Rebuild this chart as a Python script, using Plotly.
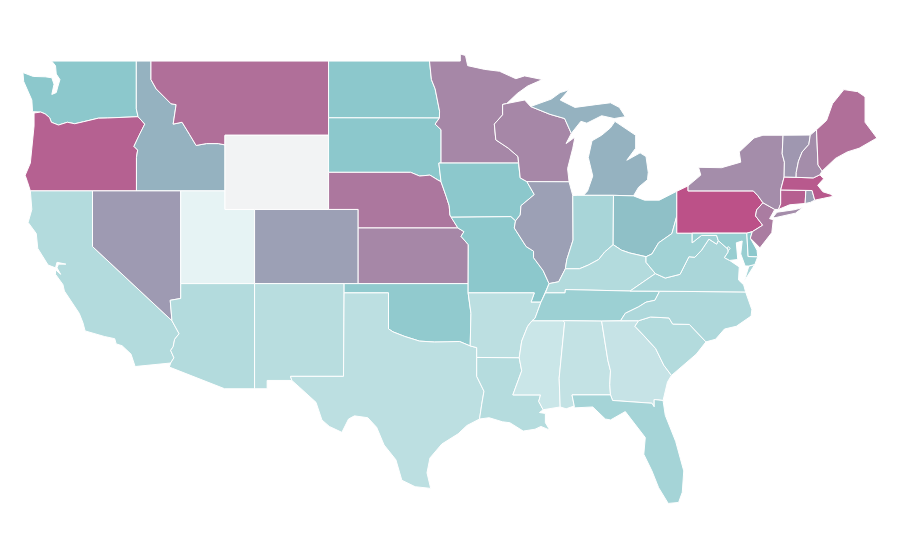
import plotly.graph_objects as go
from plotly.colors import sample_colorscale

# None means no value for that state
states = ['WA', 'OR', 'CA', 'ID', 'NV', 'UT', 'AZ', 'MT', 'WY', 'CO', 'NM', 'ND', 'SD', 'NE', 'KS', 'OK', 'TX',
          'MN', 'IA', 'MO', 'AR', 'LA', 'MS', 'WI', 'IL', 'MI', 'IN', 'OH', 'KY', 'TN', 'AL', 'GA', 'FL', 'SC',
          'NC', 'VA', 'WV', 'PA', 'MD', 'DC', 'DE', 'NJ', 'NY', 'CT', 'RI', 'MA', 'VT', 'NH', 'ME']
values = [50, 88, 33, 58, 67, 11, 33, 83, None, 65, 31, 50, 50, 80, 74, 48, 29,
          74, 50, 50, 29, 32, 23, 74, 65, 58, 38, 53, 33, 43, 26, 25, 39, 33,
          35, 37, 41, 94, 45, 40, 50, 78, 72, 89, 65, 91, 68, 72, 83]

scale = [[0, '#ffffff'], [0.5, '#8cc8cc'], [1, '#c2417f']]
no_data_color = '#f2f3f4'

# The plotly state topojson needs the network, so the base map is written out here:
# rough state outlines as real lon/lat, None starts another part of the state
outlines = {
    'WA': [(-122.76,49),(-122.5,48.75),(-122.45,48.3),(-122.2,48),(-122.35,47.6),(-122.45,47.3),(-122.75,47.2),(-122.6,47.75),(-122.75,48.1),(-123.2,48.15),(-124,48.17),(-124.7,48.38),(-124.65,47.9),(-124.3,47.3),(-124.1,46.9),(-124.05,46.27),(-123.5,46.25),(-123.2,46.15),(-122.9,45.95),(-122.78,45.7),(-122.3,45.55),(-121.7,45.7),(-121.2,45.62),(-120.6,45.73),(-119.6,45.92),(-119,45.93),(-116.92,46),(-117.04,46.42),(-117.04,49)],
    'OR': [(-123.95,46.2),(-123.5,46.25),(-123.2,46.15),(-122.9,45.95),(-122.78,45.7),(-122.3,45.55),(-121.7,45.7),(-121.2,45.62),(-120.6,45.73),(-119.6,45.92),(-119,45.93),(-116.92,46),(-116.47,45.6),(-116.85,45),(-117.2,44.4),(-116.95,44.2),(-117.03,43.8),(-117.03,42),(-124.2,42),(-124.4,42.5),(-124.55,42.84),(-124.2,43.5),(-124.1,44.5),(-123.95,45.5)],
    'CA': [(-124.2,42),(-120,42),(-120,39),(-114.63,35),(-114.15,34.3),(-114.45,34),(-114.55,33.6),(-114.72,33.4),(-114.5,33),(-114.72,32.72),(-117.12,32.53),(-117.25,32.85),(-117.4,33.2),(-118,33.65),(-118.4,33.75),(-118.5,34.03),(-119.2,34.15),(-120.5,34.45),(-120.65,34.9),(-120.9,35.4),(-121.9,36.6),(-122,36.95),(-122.5,37.5),(-122.5,37.75),(-122.15,37.5),(-122.4,37.85),(-122.3,38.05),(-121.8,38.05),(-122.4,38.15),(-122.5,37.85),(-123,38),(-123.7,38.9),(-123.8,39.7),(-124.35,40.3),(-124.1,41)],
    'ID': [(-117.04,49),(-116.05,49),(-116.05,48),(-115.7,47.5),(-114.7,46.7),(-114.35,46.65),(-114.55,45.6),(-113.95,45.7),(-113.45,45.05),(-113,44.45),(-112.3,44.55),(-111.5,44.55),(-111.05,44.48),(-111.05,42),(-117.03,42),(-117.03,43.8),(-116.95,44.2),(-117.2,44.4),(-116.85,45),(-116.47,45.6),(-116.92,46),(-117.04,46.42)],
    'NV': [(-120,42),(-114.04,42),(-114.04,36.2),(-114.75,36.1),(-114.63,35),(-120,39)],
    'UT': [(-114.04,42),(-111.05,42),(-111.05,41),(-109.05,41),(-109.05,37),(-114.04,37)],
    'AZ': [(-114.04,37),(-109.05,37),(-109.05,31.33),(-111.07,31.33),(-114.81,32.5),(-114.72,32.72),(-114.5,33),(-114.72,33.4),(-114.55,33.6),(-114.45,34),(-114.15,34.3),(-114.63,35),(-114.75,36.1),(-114.04,36.2)],
    'MT': [(-116.05,49),(-104.05,49),(-104.05,45),(-111.05,45),(-111.05,44.48),(-111.5,44.55),(-112.3,44.55),(-113,44.45),(-113.45,45.05),(-113.95,45.7),(-114.55,45.6),(-114.35,46.65),(-114.7,46.7),(-115.7,47.5),(-116.05,48)],
    'WY': [(-111.05,45),(-104.05,45),(-104.05,41),(-111.05,41)],
    'CO': [(-109.05,41),(-102.05,41),(-102.05,37),(-109.05,37)],
    'NM': [(-109.05,37),(-103,37),(-103.04,32),(-106.62,32),(-106.53,31.78),(-108.2,31.78),(-108.2,31.33),(-109.05,31.33)],
    'ND': [(-104.05,49),(-97.23,49),(-97.1,48),(-96.85,47.5),(-96.55,46.3),(-96.56,45.93),(-104.05,45.94)],
    'SD': [(-104.05,45.94),(-96.56,45.93),(-96.85,45.6),(-96.45,45.3),(-96.45,43.5),(-96.6,43.5),(-96.45,42.49),(-96.7,42.6),(-97.2,42.85),(-97.9,42.8),(-98.5,43),(-104.05,43)],
    'NE': [(-104.05,43),(-98.5,43),(-97.9,42.8),(-97.2,42.85),(-96.7,42.6),(-96.45,42.49),(-96.1,41.7),(-95.9,41.2),(-95.85,40.7),(-95.31,40),(-102.05,40),(-102.05,41),(-104.05,41)],
    'KS': [(-102.05,40),(-95.31,40),(-94.9,39.8),(-95.1,39.55),(-94.61,39.1),(-94.62,37),(-102.05,37)],
    'OK': [(-103,37),(-94.62,37),(-94.62,36.5),(-94.43,35.4),(-94.48,33.64),(-95.2,33.88),(-96,33.85),(-96.9,33.85),(-97.9,33.9),(-98.9,34.15),(-99.7,34.4),(-100,34.56),(-100,36.5),(-103,36.5)],
    'TX': [(-103,36.5),(-100,36.5),(-100,34.56),(-99.7,34.4),(-98.9,34.15),(-97.9,33.9),(-96.9,33.85),(-96,33.85),(-95.2,33.88),(-94.48,33.64),(-94.04,33.55),(-94.04,32),(-93.55,31.2),(-93.7,30.5),(-93.85,29.7),(-94.7,29.35),(-95.3,28.9),(-96.4,28.35),(-97.2,27.6),(-97.4,26.8),(-97.15,25.96),(-98.2,26.05),(-99.1,26.4),(-99.5,27.5),(-100.3,28.3),(-100.8,29.25),(-101.4,29.77),(-102.3,29.87),(-102.7,29.7),(-103.15,28.98),(-104,29.3),(-104.5,29.65),(-104.9,30.6),(-106,31.4),(-106.53,31.78),(-106.62,32),(-103.04,32)],
    'MN': [(-97.23,49),(-95.15,49),(-95.15,49.38),(-94.8,49.3),(-94.65,48.75),(-93.5,48.55),(-92.5,48.45),(-91.4,48.05),(-90.8,48.2),(-89.6,48),(-90.6,47.65),(-91.3,47.25),(-92.01,46.71),(-92.29,46.66),(-92.29,46.1),(-92.85,45.6),(-92.75,44.75),(-91.9,44.3),(-91.25,43.85),(-91.22,43.5),(-96.45,43.5),(-96.45,45.3),(-96.85,45.6),(-96.56,45.93),(-96.55,46.3),(-96.85,47.5),(-97.1,48)],
    'IA': [(-96.6,43.5),(-91.22,43.5),(-91.1,42.7),(-90.65,42.5),(-90.15,41.8),(-91.05,41.2),(-91.1,40.7),(-91.42,40.38),(-91.73,40.61),(-95.77,40.58),(-95.85,40.7),(-95.9,41.2),(-96.1,41.7),(-96.45,42.49)],
    'MO': [(-95.77,40.58),(-91.73,40.61),(-91.42,40.38),(-91.5,40),(-90.7,39),(-90.2,38.75),(-90.2,38.4),(-89.55,37.7),(-89.15,37),(-89.4,36.5),(-89.7,36),(-90.37,36),(-90.15,36.5),(-94.62,36.5),(-94.62,37),(-94.61,39.1),(-95.1,39.55),(-94.9,39.8),(-95.31,40)],
    'AR': [(-94.62,36.5),(-90.15,36.5),(-90.37,36),(-89.7,36),(-90.1,35.13),(-90.3,35),(-90.6,34.7),(-91,33.9),(-91.17,33),(-94.04,33.02),(-94.04,33.55),(-94.48,33.64),(-94.43,35.4)],
    'LA': [(-94.04,33.02),(-91.17,33),(-91,32.3),(-91.6,31),(-89.73,31),(-89.85,30.65),(-89.55,30.2),(-89.8,30.05),(-89.4,30),(-89.4,29.5),(-89.1,29.1),(-89.7,29.3),(-90.1,29.15),(-90.9,29.05),(-91.8,29.5),(-92.3,29.55),(-93.2,29.77),(-93.85,29.7),(-93.7,30.5),(-93.55,31.2),(-94.04,32)],
    'MS': [(-90.3,35),(-88.2,35),(-88.1,34.9),(-88.47,31.9),(-88.4,30.35),(-89.55,30.2),(-89.85,30.65),(-89.73,31),(-91.6,31),(-91,32.3),(-91.17,33),(-91,33.9),(-90.6,34.7)],
    'WI': [(-92.01,46.71),(-90.8,46.9),(-90.4,46.55),(-89.1,46.13),(-88.1,45.9),(-87.8,45.35),(-87.65,45.1),(-88,44.55),(-87.4,44.9),(-87.55,44.3),(-87.9,43.2),(-87.8,42.49),(-90.65,42.5),(-91.1,42.7),(-91.22,43.5),(-91.25,43.85),(-91.9,44.3),(-92.75,44.75),(-92.85,45.6),(-92.29,46.1),(-92.29,46.66)],
    'IL': [(-90.65,42.5),(-87.8,42.49),(-87.55,41.75),(-87.53,39.35),(-87.95,38.3),(-88.05,37.8),(-88.5,37.1),(-89.15,37),(-89.55,37.7),(-90.2,38.4),(-90.2,38.75),(-90.7,39),(-91.5,40),(-91.42,40.38),(-91.1,40.7),(-91.05,41.2),(-90.15,41.8)],
    'MI': [(-84.8,41.76),(-83.45,41.73),(-83.1,42.2),(-82.5,42.6),(-82.45,43),(-82.6,43.85),(-83,44.05),(-83.9,43.65),(-83.3,44.3),(-83.3,45),(-84.7,45.75),(-85,45.4),(-85.6,45),(-86.25,44.7),(-86.5,43.8),(-86.2,42.8),(-86.55,42),(-86.82,41.76), None,
           (-90.4,46.55),(-89,46.95),(-88.4,47.3),(-87.8,47.45),(-88.4,46.9),(-87.4,46.5),(-86,46.65),(-85,46.75),(-84.4,46.5),(-84,46),(-84.75,45.9),(-85.6,46.05),(-86.6,45.65),(-87,45.75),(-87.65,45.1),(-87.8,45.35),(-88.1,45.9),(-89.1,46.13)],
    'IN': [(-87.55,41.75),(-87.2,41.76),(-84.8,41.76),(-84.82,39.1),(-85.4,38.7),(-85.8,38.3),(-86.5,38),(-87.1,37.8),(-88.05,37.8),(-87.95,38.3),(-87.53,39.35)],
    'OH': [(-84.8,41.76),(-83.45,41.73),(-82.7,41.5),(-81.7,41.5),(-80.52,41.98),(-80.52,40.64),(-80.85,39.7),(-81.75,39.2),(-82.2,38.6),(-82.6,38.45),(-83.7,38.65),(-84.25,38.8),(-84.82,39.1)],
    'KY': [(-89.4,36.5),(-89.15,37),(-88.5,37.1),(-88.05,37.8),(-87.1,37.8),(-86.5,38),(-85.8,38.3),(-85.4,38.7),(-84.82,39.1),(-84.25,38.8),(-83.7,38.65),(-82.6,38.45),(-82.6,38.15),(-81.97,37.54),(-83.68,36.6),(-88.05,36.68),(-88.07,36.5)],
    'TN': [(-90.3,35),(-90.1,35.13),(-89.7,36),(-89.4,36.5),(-88.07,36.5),(-88.05,36.68),(-83.68,36.6),(-81.68,36.59),(-82,36.1),(-82.6,36),(-83.1,35.75),(-84,35.4),(-84.32,35),(-85.6,34.98),(-88.2,35)],
    'AL': [(-88.2,35),(-85.6,34.98),(-85.18,32.87),(-85,32.3),(-85.05,31.55),(-85,31),(-87.6,31),(-87.45,30.4),(-88,30.25),(-88.4,30.35),(-88.47,31.9),(-88.1,34.9)],
    'GA': [(-85.6,34.98),(-83.1,35),(-83.35,34.7),(-82.75,34.2),(-81.95,33.5),(-81.4,32.6),(-80.88,32.05),(-81.15,31.7),(-81.45,30.7),(-82.05,30.75),(-82.05,30.36),(-82.2,30.55),(-84.86,30.7),(-85,31),(-85.05,31.55),(-85,32.3),(-85.18,32.87)],
    'FL': [(-87.6,31),(-85,31),(-84.86,30.7),(-82.2,30.55),(-82.05,30.36),(-82.05,30.75),(-81.45,30.7),(-81.3,29.9),(-80.6,28.5),(-80.05,26.9),(-80.15,25.75),(-80.4,25.2),(-81.1,25.15),(-81.75,26),(-82.2,26.9),(-82.75,27.8),(-82.65,28.7),(-83.4,29.5),(-84,30.1),(-85,29.65),(-85.35,29.7),(-86.2,30.35),(-87.45,30.3),(-87.45,30.4)],
    'SC': [(-83.1,35),(-82.3,35.2),(-81.05,35.15),(-80.8,34.82),(-79.67,34.8),(-78.55,33.86),(-79.2,33.2),(-79.9,32.7),(-80.88,32.05),(-81.4,32.6),(-81.95,33.5),(-82.75,34.2),(-83.35,34.7)],
    'NC': [(-84.32,35),(-83.1,35),(-82.3,35.2),(-81.05,35.15),(-80.8,34.82),(-79.67,34.8),(-78.55,33.86),(-77.9,34),(-77.3,34.55),(-76.5,34.7),(-75.5,35.25),(-75.45,35.6),(-75.87,36.55),(-81.68,36.59),(-82,36.1),(-82.6,36),(-83.1,35.75),(-84,35.4)],
    'VA': [(-83.68,36.6),(-81.97,37.54),(-81.3,37.3),(-80.3,37.5),(-79.7,38.45),(-79.3,38.42),(-78.85,38.8),(-78.35,39.4),(-77.83,39.13),(-77.72,39.32),(-77.05,38.85),(-77.05,38.7),(-77.3,38.4),(-76.95,38.25),(-76.3,37.9),(-76.35,37.2),(-76,36.93),(-75.87,36.55),(-81.68,36.59), None,
           (-75.95,37.15),(-75.65,37.95),(-75.25,38.03)],
    'WV': [(-81.97,37.54),(-82.6,38.15),(-82.6,38.45),(-82.2,38.6),(-81.75,39.2),(-80.85,39.7),(-80.52,40.64),(-80.52,39.72),(-79.48,39.72),(-79.48,39.2),(-78.85,39.6),(-78.4,39.6),(-77.83,39.6),(-77.72,39.32),(-77.83,39.13),(-78.35,39.4),(-78.85,38.8),(-79.3,38.42),(-79.7,38.45),(-80.3,37.5),(-81.3,37.3)],
    'PA': [(-80.52,41.98),(-79.76,42.27),(-79.76,42),(-75.35,42),(-75.05,41.75),(-74.7,41.36),(-75.13,40.97),(-75.2,40.65),(-74.72,40.15),(-75.42,39.8),(-75.79,39.72),(-80.52,39.72)],
    'MD': [(-79.48,39.72),(-75.79,39.72),(-75.7,38.46),(-75.05,38.45),(-75.25,38.03),(-75.65,37.95),(-75.9,37.95),(-76.2,38.6),(-76.1,39.3),(-76.5,39.2),(-76.4,38.3),(-76.95,38.25),(-77.3,38.4),(-77.05,38.7),(-77.05,38.85),(-77.72,39.32),(-77.83,39.6),(-78.4,39.6),(-78.85,39.6),(-79.48,39.2)],
    'DC': [(-77.12,38.93),(-77.04,39),(-76.91,38.89),(-77.04,38.79)],
    'DE': [(-75.79,39.72),(-75.42,39.8),(-75.55,39.45),(-75.1,38.8),(-75.05,38.45),(-75.7,38.46)],
    'NJ': [(-74.7,41.36),(-73.9,41),(-74.25,40.5),(-74,40.45),(-74.1,39.75),(-74.9,38.93),(-75.55,39.45),(-75.42,39.8),(-74.72,40.15),(-75.2,40.65),(-75.13,40.97)],
    'NY': [(-79.76,42),(-79.76,42.27),(-78.9,42.85),(-79.05,43.27),(-77.5,43.25),(-76.2,43.55),(-76.3,44.1),(-75.3,44.85),(-74.7,45),(-73.34,45),(-73.4,44),(-73.25,43.55),(-73.27,42.75),(-73.5,42.05),(-73.5,41.3),(-73.65,41),(-73.9,41),(-74.7,41.36),(-75.05,41.75),(-75.35,42), None,
           (-74,40.6),(-73.75,40.85),(-72.6,40.98),(-72,41.1),(-72.5,40.8),(-73.9,40.55)],
    'CT': [(-73.5,42.05),(-71.8,42.02),(-71.85,41.32),(-72.9,41.25),(-73.65,41),(-73.5,41.3)],
    'RI': [(-71.8,42.02),(-71.38,42.02),(-71.2,41.5),(-71.5,41.38),(-71.85,41.32)],
    'MA': [(-73.5,42.05),(-73.27,42.75),(-71.3,42.7),(-70.85,42.87),(-70.6,42.65),(-71,42.3),(-70.65,41.95),(-70.05,41.8),(-70.2,42.05),(-70,41.7),(-70.6,41.6),(-71.2,41.5),(-71.38,42.02),(-71.8,42.02)],
    'VT': [(-73.34,45),(-71.5,45.01),(-71.6,44.5),(-72.05,44.1),(-72.3,43.6),(-72.45,43),(-72.46,42.73),(-73.27,42.75),(-73.25,43.55),(-73.4,44)],
    'NH': [(-71.5,45.01),(-71.08,45.3),(-70.98,43.4),(-70.7,43.07),(-70.85,42.87),(-71.3,42.7),(-72.46,42.73),(-72.45,43),(-72.3,43.6),(-72.05,44.1),(-71.6,44.5)],
    'ME': [(-71.08,45.3),(-70.4,45.8),(-70,46.7),(-69.23,47.46),(-68.3,47.35),(-67.8,47.07),(-67.8,45.7),(-67.45,45.3),(-67,44.85),(-68.2,44.3),(-69,44.1),(-69.8,43.75),(-70.7,43.07),(-70.98,43.4)],
}


def close_parts(points):
    # scatter fill wants lon and lat lists with a None between the parts
    lons, lats, first = [], [], None
    for point in points + [None]:
        if point is None:
            lons += [first[0], None]
            lats += [first[1], None]
            first = None
            continue
        first = first or point
        lons.append(point[0])
        lats.append(point[1])
    return lons, lats


fig = go.Figure()
for state, value in zip(states, values):
    color = no_data_color if value is None else sample_colorscale(scale, value / 100)[0]
    lons, lats = close_parts(outlines[state])
    fig.add_trace(go.Scatter(
        x=lons,
        y=lats,
        mode='lines',
        fill='toself',
        fillcolor=color,
        line=dict(color='white', width=1),
        name=state,
        hoverinfo='name',
    ))

# flat lon/lat axes, the reference has straight parallels at even spacing
fig.update_xaxes(visible=False, range=[-125.71, -65.98])
fig.update_yaxes(visible=False, range=[22.53, 51.86])
fig.update_layout(
    width=884,
    height=544,
    showlegend=False,
    margin=dict(l=0, r=0, t=0, b=0),
    paper_bgcolor='white',
    plot_bgcolor='white',
)
fig.write_html('out.html')
